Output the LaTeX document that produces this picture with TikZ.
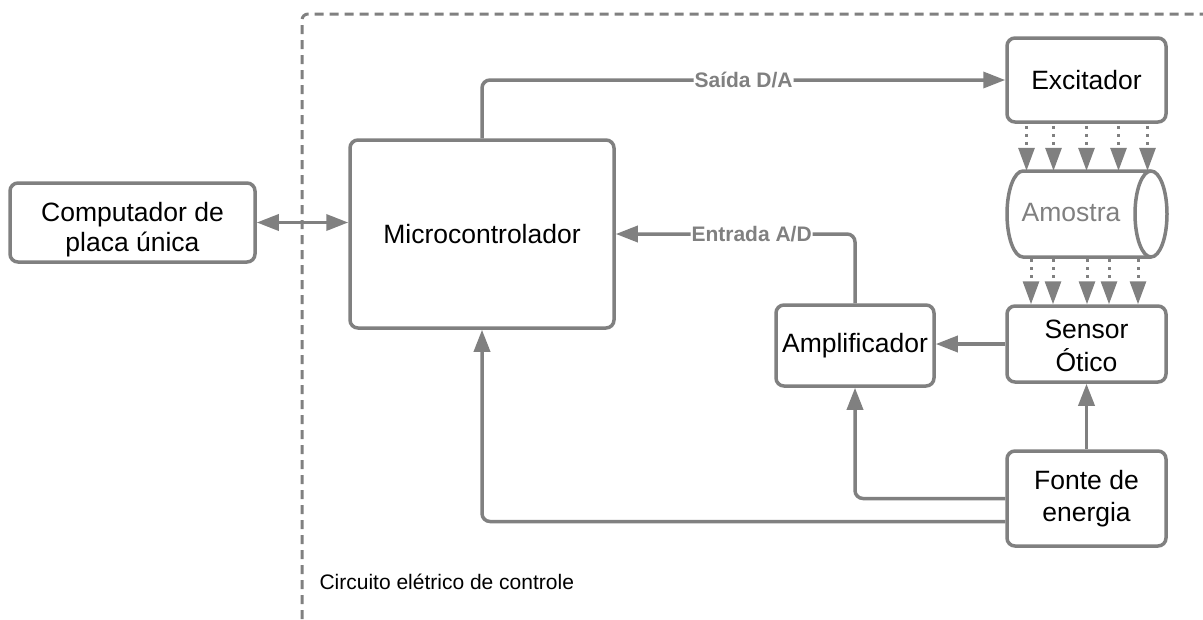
\documentclass[tikz,border=0pt]{standalone}
\usepackage{fontspec}
\setmainfont{Liberation Sans}
\usetikzlibrary{arrows.meta,calc}
\definecolor{lgray}{HTML}{808080}
\tikzset{
  box/.style={rectangle,draw=lgray,line width=3.5pt,rounded corners=8pt,fill=white,
    align=center,inner sep=0pt,font=\fontsize{26.5}{31}\selectfont},
  txt/.style={align=center,inner sep=0pt},
  conn/.style={draw=lgray,line width=3.5pt,rounded corners=8pt,
    -{Triangle[length=22pt,width=16pt]}},
  dotarr/.style={draw=lgray,line width=3pt,dash pattern=on 3pt off 5pt,dash phase=6pt,
    -{Triangle[length=23pt,width=16pt]}},
  lbl/.style={fill=white,text=lgray,inner sep=1pt,font=\fontsize{21}{24}\selectfont\bfseries},
  frame/.style={draw=lgray,line width=3pt,dash pattern=on 9pt off 6pt,rounded corners=6pt}
}
\begin{document}
\begin{tikzpicture}[x=1pt,y=-1pt]
\useasboundingbox (0,0) rectangle (1203,619);
\draw[frame] (302,619) -- (302,14) -- (1203,14);
\node[anchor=west,font=\fontsize{21}{24}\selectfont] (cap) at (316,582) {Circuito elétrico de controle};

\node[box,minimum width=245pt,minimum height=79pt] (pc) at (132.5,222.5) {};
\node[txt,font=\fontsize{26.5}{30}\selectfont] (pctxt) at ([yshift=-7.5pt]pc.center) {Computador de\\placa única};
\node[box,minimum width=264pt,minimum height=188pt] (mc) at (482,234) {Microcontrolador};
\node[box,minimum width=159pt,minimum height=84pt] (exc) at (1086.5,80) {Excitador};
\node[box,minimum width=159pt,minimum height=76pt] (sen) at (1086.5,344) {};
\node[txt,font=\fontsize{26.5}{33}\selectfont] (sentxt) at ([yshift=-2pt]sen.center) {Sensor\\Ótico};
\node[box,minimum width=158pt,minimum height=81pt] (amp) at (855,345.5) {Amplificador};
\node[box,minimum width=159pt,minimum height=95pt] (fon) at (1086.5,498.5) {};
\node[txt,font=\fontsize{26.5}{32}\selectfont] (fontxt) at ([yshift=-0.5pt]fon.center) {Fonte de\\energia};

% Amostra cylinder
\node[minimum width=160pt,minimum height=86pt,inner sep=0pt] (amo) at (1087,214) {};
\draw[draw=lgray,line width=3.5pt,fill=white]
  (1151,171) -- (1023,171) arc[start angle=90,end angle=270,x radius=16pt,y radius=43pt]
  -- (1151,257) arc[start angle=-90,end angle=90,x radius=16pt,y radius=43pt] -- cycle;
\draw[draw=lgray,line width=3.5pt] (1151,171) arc[start angle=90,end angle=270,x radius=16pt,y radius=43pt];
\node[text=lgray,font=\fontsize{26.5}{31}\selectfont] (amotxt) at (1071,213) {Amostra};

% connectors
\draw[conn,{Triangle[length=22pt,width=16pt]}-{Triangle[length=22pt,width=16pt]},rounded corners=0pt] (pc.east) -- (pc.east -| mc.west);
\draw[conn] (mc.north) |- node[lbl,pos=0.75] {Saída D/A} (exc.west);
\draw[conn] (amp.north) |- node[lbl,pos=0.716] {Entrada A/D} (mc.east);
\draw[conn] (sen.west) -- (sen.west -| amp.east);
\draw[conn] (fon.north) -- (sen.south);
\draw[conn] (fon.west) -| (amp.south);
\draw[conn] ([yshift=-23pt]fon.west) -| (mc.south);

% dotted arrows
\foreach \dx in {-60,-33,0,32,61}
  \draw[dotarr] ([xshift=\dx pt]exc.south) -- ([xshift=\dx pt]exc.south |- amo.north);
\foreach \dx in {-56,-34,0,22,51}
  \draw[dotarr] ([xshift=\dx pt]amo.south) -- ([xshift=\dx pt]amo.south |- sen.north);
\end{tikzpicture}
\end{document}
